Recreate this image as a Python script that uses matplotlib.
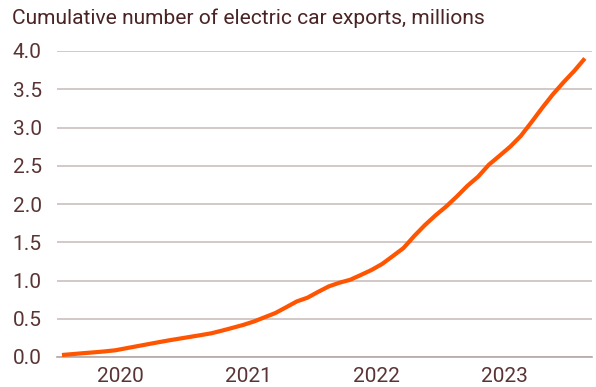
import matplotlib
matplotlib.use("Agg")
import matplotlib.pyplot as plt

plt.rcParams['font.family'] = ['Roboto', 'DejaVu Sans']

# Monthly cumulative electric car exports (millions), Jan 2020 onward
exports = [0.026, 0.038, 0.050, 0.061, 0.073, 0.088, 0.114, 0.140, 0.166, 0.192,
           0.217, 0.240, 0.263, 0.286, 0.310, 0.345, 0.382, 0.420, 0.465, 0.520,
           0.575, 0.650, 0.726, 0.775, 0.851, 0.923, 0.971, 1.009, 1.072, 1.137,
           1.216, 1.319, 1.424, 1.580, 1.723, 1.851, 1.967, 2.098, 2.238, 2.358,
           2.513, 2.630, 2.749, 2.890, 3.070, 3.256, 3.433, 3.591, 3.739, 3.903]
year_labels = ["2020", "2021", "2022", "2023"]
y_ticks = [0.0, 0.5, 1.0, 1.5, 2.0, 2.5, 3.0, 3.5, 4.0]
title = "Cumulative number of electric car exports, millions"

title_col = "#4a2424"
tick_col = "#5a3434"
grid_col = "#cbbfbf"
line_col = "#ff5500"

fig = plt.figure(figsize=(5.96, 3.87), dpi=100)
ax = fig.add_axes([57/596, 30/387, 535/596, 306/387])

months = list(range(len(exports)))
ax.plot(months, exports, color=line_col, lw=3, solid_capstyle='butt', clip_on=False, zorder=3)

ax.set_xlim(-0.47, 49.67)
ax.set_ylim(0, 4.0)
ax.set_yticks(y_ticks)
ax.set_yticklabels([f"{v:.1f}" for v in y_ticks])
ax.set_xticks([5.5 + 12*k for k in range(len(year_labels))])
ax.set_xticklabels(year_labels)

ax.grid(axis='y', color=grid_col, lw=1.2, zorder=0)
ax.grid(axis='x', visible=False)
for s in ['top', 'right', 'left']:
    ax.spines[s].set_visible(False)
ax.spines['bottom'].set_color("#b5a8a8")
ax.spines['bottom'].set_linewidth(1.2)
ax.tick_params(axis='both', length=0, labelsize=15, labelcolor=tick_col)
ax.tick_params(axis='y', pad=11)
ax.tick_params(axis='x', pad=7)

fig.text(12/596, 1 - 18/387, title, fontsize=15.1, color=title_col, ha='left', va='center')

fig.savefig("out.png", dpi=100)
